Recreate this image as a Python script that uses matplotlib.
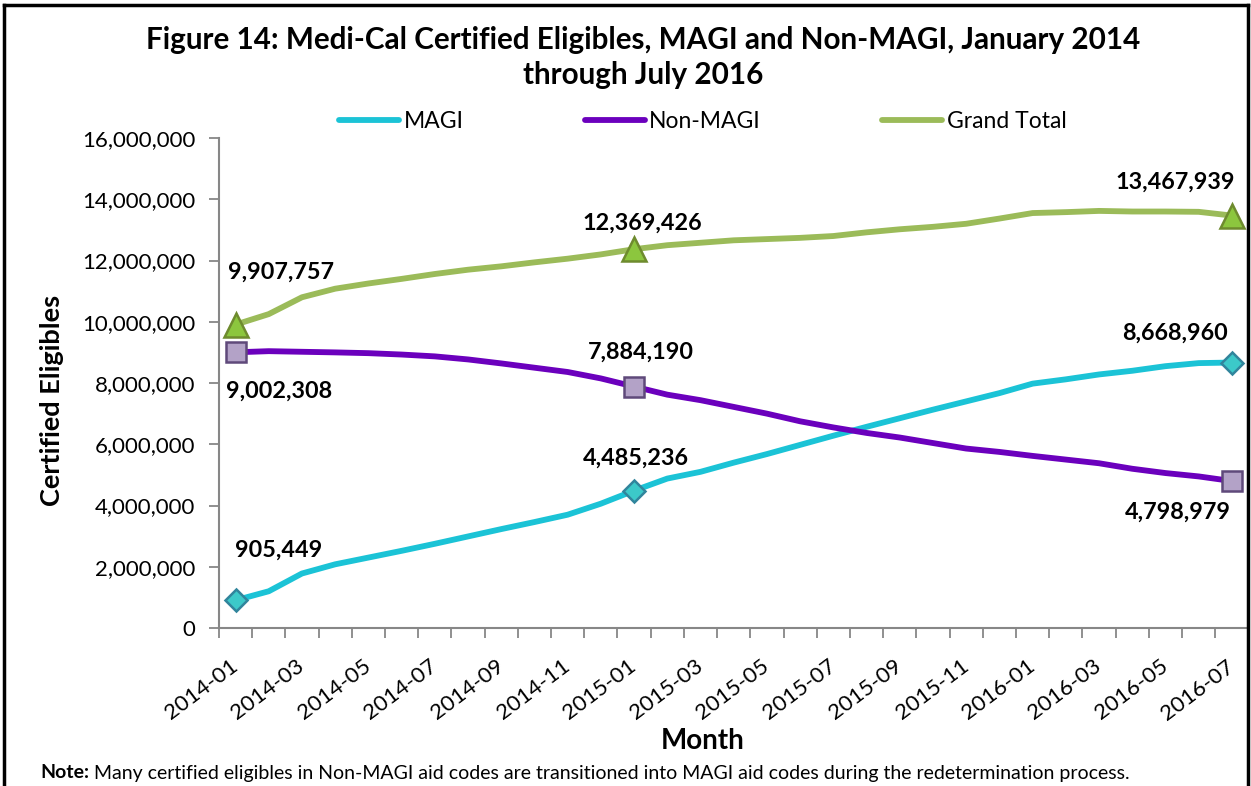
import numpy as np
import matplotlib
matplotlib.use('Agg')
import matplotlib.pyplot as plt
from matplotlib.lines import Line2D
from matplotlib.ticker import FuncFormatter

plt.rcParams['font.family'] = ['Lato', 'DejaVu Sans']

# ---- Data (monthly certified eligibles, Jan 2014 - Jul 2016) ----
months = [f"{y}-{m:02d}" for y in (2014, 2015, 2016) for m in range(1, 13)][:31]

magi = [905449, 1200000, 1780000, 2080000, 2300000, 2520000, 2750000,
        2990000, 3230000, 3460000, 3700000, 4060000, 4485236, 4880000,
        5100000, 5400000, 5680000, 5980000, 6280000, 6570000, 6850000,
        7130000, 7400000, 7670000, 7980000, 8120000, 8280000, 8400000,
        8550000, 8650000, 8668960]

non_magi = [9002308, 9040000, 9020000, 9000000, 8975000, 8930000, 8870000,
            8770000, 8640000, 8500000, 8360000, 8150000, 7884190, 7620000,
            7440000, 7220000, 7000000, 6750000, 6550000, 6370000, 6220000,
            6040000, 5860000, 5750000, 5620000, 5500000, 5380000, 5200000,
            5060000, 4950000, 4798979]

grand_total = [9907757, 10250000, 10800000, 11080000, 11250000, 11400000,
               11560000, 11700000, 11810000, 11940000, 12060000, 12200000,
               12369426, 12500000, 12580000, 12660000, 12700000, 12740000,
               12800000, 12920000, 13020000, 13100000, 13200000, 13370000,
               13550000, 13580000, 13620000, 13600000, 13600000, 13590000,
               13467939]

labeled_idx = [0, 12, 30]

# ---- Style ----
C_MAGI = '#1BC3D6'
C_NON = '#6B00BD'
C_TOT = '#9BBB59'
AXIS = '#878787'
INK = '#000000'

fig, ax = plt.subplots(figsize=(12.51, 7.86), dpi=100)
fig.patch.set_facecolor('white')
fig.subplots_adjust(left=0.175, right=0.998, bottom=0.201, top=0.8244)

x = np.arange(len(months))
lw = 4.2
ax.plot(x, magi, color=C_MAGI, lw=lw, solid_capstyle='round', label='MAGI', zorder=3)
ax.plot(x, non_magi, color=C_NON, lw=lw, solid_capstyle='round', label='Non-MAGI', zorder=3)
ax.plot(x, grand_total, color=C_TOT, lw=lw, solid_capstyle='round', label='Grand Total', zorder=3)

xi = np.array(labeled_idx)
ax.plot(xi, np.array(magi)[xi], ls='none', marker='D', ms=11,
        mfc='#3CC9C9', mec='#31859C', mew=1.8, zorder=4)
ax.plot(xi, np.array(non_magi)[xi], ls='none', marker='s', ms=15,
        mfc='#B3A2C7', mec='#5F497A', mew=1.8, zorder=4)
ax.plot(xi, np.array(grand_total)[xi], ls='none', marker='^', ms=17,
        mfc='#8CC63E', mec='#6E8B2E', mew=1.8, zorder=4)

# ---- Point labels ----
offsets = {
    'magi': [(43, 50), (2, 32), (-57, 29)],
    'non': [(44, -39), (7, 34), (-54, -31)],
    'tot': [(45, 52), (8, 26), (-57, 33)],
}
for key, series in (('magi', magi), ('non', non_magi), ('tot', grand_total)):
    for (dx, dy), i in zip(offsets[key], labeled_idx):
        ax.annotate(f"{series[i]:,}", xy=(i, series[i]), xytext=(dx, dy),
                    textcoords='offset pixels', ha='center', va='center',
                    fontsize=16.8, fontweight='bold', color=INK, zorder=5)

# ---- Axes ----
ax.set_xlim(-0.5, len(months) - 0.5)
ax.set_ylim(0, 16000000)
ax.set_yticks(np.arange(0, 16000001, 2000000))
ax.yaxis.set_major_formatter(FuncFormatter(lambda v, p: f"{int(v):,}"))
ax.set_xticks(np.arange(-0.5, len(months), 1.0))
ax.set_xticklabels([])
ax.set_xticks(x[::2], minor=True)
ax.set_xticklabels(months[::2], minor=True, rotation=37, ha='right',
                   va='center', rotation_mode='anchor', fontsize=16)
ax.tick_params(axis='x', which='minor', length=0, pad=26)
ax.tick_params(axis='x', which='major', length=7, width=1.3, color=AXIS)
ax.tick_params(axis='y', length=7, width=1.3, color=AXIS, labelsize=16, pad=10)
ax.spines[['top', 'right']].set_visible(False)
ax.spines[['left', 'bottom']].set_color(AXIS)
ax.spines[['left', 'bottom']].set_linewidth(1.5)

ax.set_ylabel('Certified Eligibles', fontsize=19.5, fontweight='bold')
ax.yaxis.set_label_coords(-0.150, 0.465)
ax.set_xlabel('Month', fontsize=20, fontweight='bold')
ax.xaxis.set_label_coords(0.47, -0.205)

ax.legend(loc='center', bbox_to_anchor=(0.47, 1.033), ncol=3, frameon=False,
          fontsize=16.5, handlelength=2.6, handletextpad=0.2, columnspacing=5.3)

fig.text(0.514, 0.927, 'Figure 14: Medi-Cal Certified Eligibles, MAGI and Non-MAGI, January 2014\nthrough July 2016',
         ha='center', va='center', fontsize=21.3, fontweight='bold', linespacing=1.3)

# note line: bold lead-in followed by regular text
note_y = 1 - 773 / 786
lead = fig.text(0.032, note_y, 'Note:', ha='left', va='center', fontsize=14, fontweight='bold')
fig.canvas.draw()
bb = lead.get_window_extent().transformed(fig.transFigure.inverted())
fig.text(bb.x1 + 0.004, note_y,
         'Many certified eligibles in Non-MAGI aid codes are transitioned into MAGI aid codes during the redetermination process.',
         ha='left', va='center', fontsize=14)

# outer frame
for xs, ys in (([0.003, 0.003], [0, 0.994]), ([0.003, 0.998], [0.994, 0.994]),
               ([0.998, 0.998], [0, 0.994])):
    fig.add_artist(Line2D(xs, ys, color='black', lw=2.5, transform=fig.transFigure))

fig.savefig('out.png', dpi=100, facecolor='white')
